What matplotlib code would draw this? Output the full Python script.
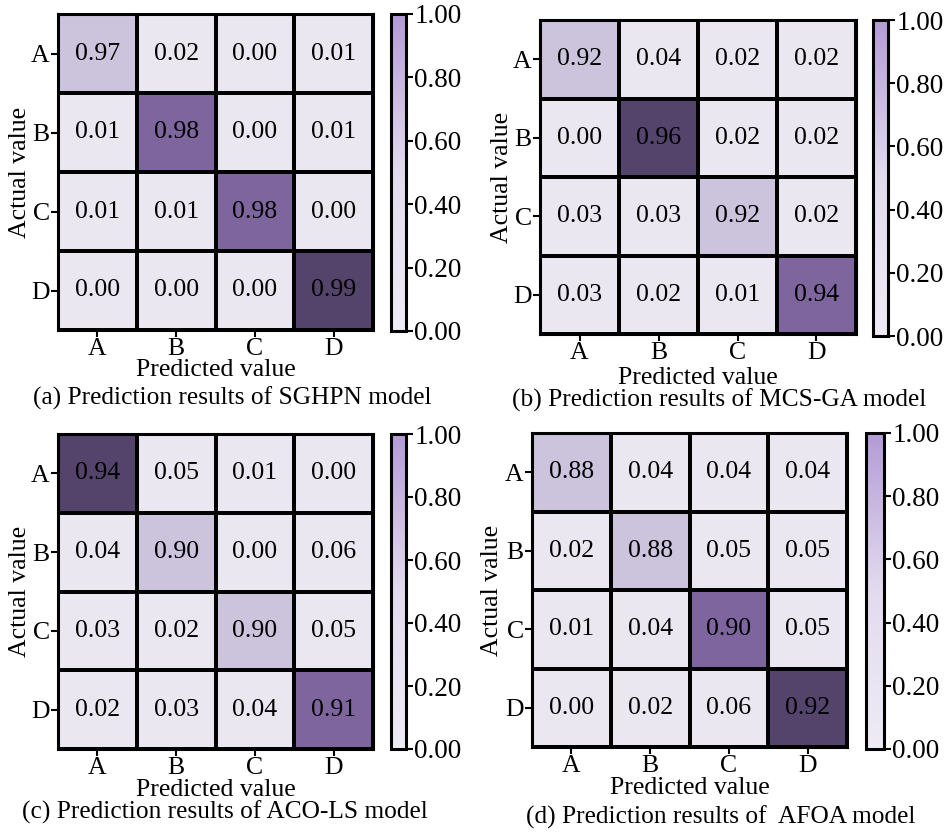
import numpy as np
import matplotlib
matplotlib.use("Agg")
import matplotlib.pyplot as plt
from matplotlib.colors import ListedColormap, BoundaryNorm, Normalize, LinearSegmentedColormap
from matplotlib.cm import ScalarMappable

plt.rcParams['font.family'] = ['Liberation Serif', 'DejaVu Serif']

classes = ["A", "B", "C", "D"]

cm_sghpn = [[0.97, 0.02, 0.00, 0.01],
            [0.01, 0.98, 0.00, 0.01],
            [0.01, 0.01, 0.98, 0.00],
            [0.00, 0.00, 0.00, 0.99]]
cm_mcsga = [[0.92, 0.04, 0.02, 0.02],
            [0.00, 0.96, 0.02, 0.02],
            [0.03, 0.03, 0.92, 0.02],
            [0.03, 0.02, 0.01, 0.94]]
cm_acols = [[0.94, 0.05, 0.01, 0.00],
            [0.04, 0.90, 0.00, 0.06],
            [0.03, 0.02, 0.90, 0.05],
            [0.02, 0.03, 0.04, 0.91]]
cm_afoa = [[0.88, 0.04, 0.04, 0.04],
           [0.02, 0.88, 0.05, 0.05],
           [0.01, 0.04, 0.90, 0.05],
           [0.00, 0.02, 0.06, 0.92]]

captions = ["(a) Prediction results of SGHPN model",
            "(b) Prediction results of MCS-GA model",
            "(c) Prediction results of ACO-LS model",
            "(d) Prediction results of  AFOA model"]
matrices = [cm_sghpn, cm_mcsga, cm_acols, cm_afoa]

W, H = 952, 836
fig = plt.figure(figsize=(W / 100, H / 100), dpi=100)


def px_axes(x0, y0, x1, y1):
    return fig.add_axes([x0 / W, 1 - y1 / H, (x1 - x0) / W, (y1 - y0) / H])


# pixel boxes: heatmap, colorbar, ylabel x, xlabel y, caption (x, y)
layout = [
    ((58, 14, 373, 330), (391, 14, 406, 331), 20, 370, (232, 398)),
    ((540, 20, 856, 334), (873, 20, 888, 336), 502, 378, (719, 400)),
    ((58, 434, 373, 749), (391, 434, 406, 749), 20, 790, (225, 812)),
    ((532, 433, 847, 747), (866, 433, 884, 749), 492, 788, (721, 817)),
]

cell_cmap = ListedColormap(["#ebe7f1", "#ccc3dd", "#7e659e", "#54436b"])
bar_cmap = LinearSegmentedColormap.from_list(
    "bar", [(0, "#eeebf4"), (0.5, "#e2dbee"), (1, "#b39bd6")])

for mat, cap, (hbox, cbox, ylx, xly, (cx, cy)) in zip(matrices, captions, layout):
    data = np.array(mat)
    diag = np.unique(np.diag(data))
    bounds = [0] + list(diag) + [1.01]
    norm = BoundaryNorm(bounds, cell_cmap.N)

    ax = px_axes(*hbox)
    ax.pcolormesh(data, cmap=cell_cmap, norm=norm, edgecolors="black", linewidth=1.6)
    for i in range(4):
        for j in range(4):
            ax.text(j + 0.5, i + 0.5, f"{data[i, j]:.2f}", ha="center", va="center",
                    fontsize=18.5)
    ax.set_xlim(0, 4)
    ax.set_ylim(4, 0)
    ax.set_xticks(np.arange(4) + 0.5)
    ax.set_yticks(np.arange(4) + 0.5)
    ax.set_xticklabels(classes)
    ax.set_yticklabels(classes)
    ax.tick_params(labelsize=18.5, length=5, width=1.5, pad=1, color="black")
    for s in ax.spines.values():
        s.set_linewidth(2.2)
    fig.text(ylx / W, 1 - (hbox[1] + hbox[3]) / 2 / H, "Actual value", rotation=90,
             ha="center", va="center", fontsize=18.5)
    fig.text((hbox[0] + hbox[2]) / 2 / W, 1 - xly / H, "Predicted value",
             ha="center", va="center", fontsize=18.5)
    fig.text(cx / W, 1 - cy / H, cap, ha="center", va="center", fontsize=18.3)

    cax = px_axes(*cbox)
    cb = fig.colorbar(ScalarMappable(norm=Normalize(0, 1), cmap=bar_cmap), cax=cax)
    cb.set_ticks([0, 0.2, 0.4, 0.6, 0.8, 1.0])
    cb.set_ticklabels(["0.00", "0.20", "0.40", "0.60", "0.80", "1.00"])
    cb.outline.set_linewidth(2.2)
    cax.tick_params(labelsize=19.5, length=5, width=1.5, pad=1)

fig.savefig("out.png", dpi=100)
